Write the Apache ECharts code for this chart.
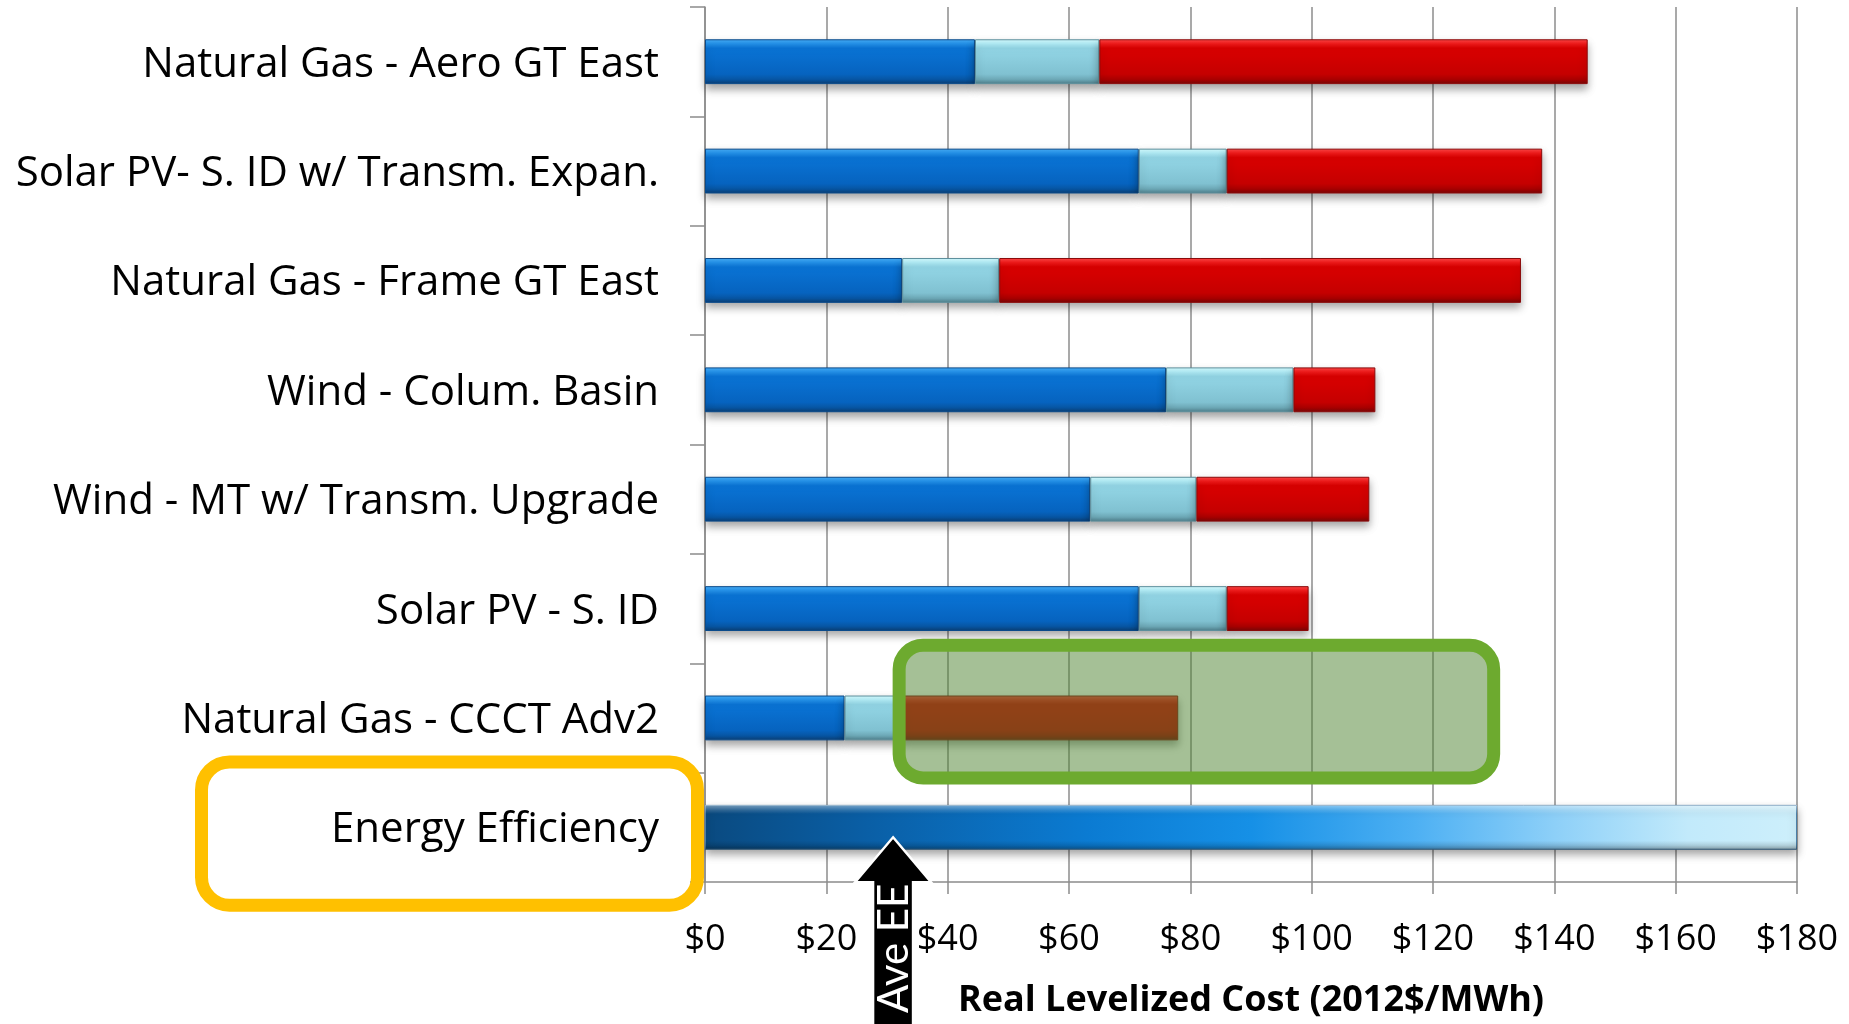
<!DOCTYPE html>
<html>
<head>
<meta charset="utf-8">
<title>Real Levelized Cost</title>
<script src="https://cdn.jsdelivr.net/npm/echarts@6/dist/echarts.min.js"></script>
<style>
  html, body { margin: 0; padding: 0; background: #ffffff; }
  #chart { width: 1849px; height: 1024px; }
</style>
</head>
<body>
<div id="chart"></div>
<script>
// Resources, top to bottom
const categories = [
  'Natural Gas - Aero GT East',
  'Solar PV- S. ID w/ Transm. Expan.',
  'Natural Gas - Frame GT East',
  'Wind - Colum. Basin',
  'Wind - MT w/ Transm. Upgrade',
  'Solar PV - S. ID',
  'Natural Gas - CCCT Adv2',
  'Energy Efficiency'
];

// Cost components, 2012$/MWh (stacked left to right)
const capitalCost  = [44.5, 71.5, 32.5, 76.0, 63.5, 71.5, 23.0, null];
const fixedCost    = [20.5, 14.5, 16.0, 21.0, 17.5, 14.5,  9.5, null];
const variableCost = [80.5, 52.0, 86.0, 13.5, 28.5, 13.5, 45.5, null];
const efficiencyRange = [null, null, null, null, null, null, null, 180];

// Axis ticks
const xMin = 0, xMax = 180, xStep = 20;

// Annotations
const aveEE = 31;                 // average energy-efficiency cost
const gasRange = [32, 130];       // highlighted gas cost range
const gasRow = 6;                 // Natural Gas - CCCT Adv2
const eeRow = 7;                  // Energy Efficiency

const FONT = '"Open Sans", Lato, sans-serif';
const ARROW_FONT = 'Lato, "Open Sans", sans-serif';

function vgrad(stops) {
  return new echarts.graphic.LinearGradient(0, 0, 0, 1,
    stops.map(s => ({ offset: s[0], color: s[1] })));
}
function hgrad(stops) {
  return new echarts.graphic.LinearGradient(0, 0, 1, 0,
    stops.map(s => ({ offset: s[0], color: s[1] })));
}

const barShadow = { shadowBlur: 8, shadowOffsetY: 5, shadowColor: 'rgba(0,0,0,0.35)' };

const blueFill = vgrad([[0, '#48aef7'], [0.1, '#2493ec'], [0.2, '#0a74d6'], [0.78, '#0663bf'], [0.9, '#0755a2'], [1, '#0b3d72']]);
const lightFill = vgrad([[0, '#d6fcff'], [0.1, '#b2eef8'], [0.2, '#93d6e6'], [0.78, '#80c1d1'], [0.9, '#6ca7b5'], [1, '#4d7c88']]);
const redFill = vgrad([[0, '#ff4a4a'], [0.1, '#f21a1a'], [0.2, '#da0000'], [0.78, '#c50000'], [0.9, '#a80000'], [1, '#760909']]);
const eeFill = hgrad([[0, '#0a4a80'], [0.15, '#0a5fa6'], [0.35, '#0b7bd2'], [0.5, '#1690e6'], [0.65, '#4db0f3'], [0.78, '#8ed0f8'], [0.9, '#c2eafb'], [1, '#cdeffb']]);
const eeBevel = vgrad([[0, 'rgba(255,255,255,0.45)'], [0.12, 'rgba(255,255,255,0.15)'], [0.2, 'rgba(255,255,255,0)'], [0.8, 'rgba(0,0,0,0)'], [0.9, 'rgba(0,0,0,0.12)'], [1, 'rgba(0,0,0,0.35)']]);

const chart = echarts.init(document.getElementById('chart'), null, { renderer: 'canvas' });

const option = {
  animation: false,
  backgroundColor: '#ffffff',
  grid: { left: 705, right: 52, top: 7, bottom: 140, containLabel: false },
  xAxis: {
    type: 'value',
    min: xMin, max: xMax, interval: xStep,
    axisLine: { show: true, lineStyle: { color: '#8c8c8c', width: 1.5 } },
    axisTick: { show: true, length: 12, lineStyle: { color: '#8c8c8c', width: 1.5 } },
    splitLine: { show: true, lineStyle: { color: '#8c8c8c', width: 1.5 } },
    axisLabel: {
      formatter: v => '$' + v,
      fontFamily: FONT, fontSize: 36, color: '#000', margin: 40
    },
    name: 'Real Levelized Cost (2012$/MWh)',
    nameLocation: 'middle',
    nameGap: 101,
    nameTextStyle: { fontFamily: FONT, fontSize: 36, fontWeight: 'bold', color: '#000' }
  },
  yAxis: {
    type: 'category',
    data: categories,
    inverse: true,
    axisLine: { show: true, lineStyle: { color: '#8c8c8c', width: 1.5 } },
    axisTick: { show: true, length: 15, lineStyle: { color: '#8c8c8c', width: 1.5 } },
    axisLabel: {
      fontFamily: FONT, fontSize: 42, color: '#000', margin: 46,
      formatter: v => '{c|' + v + '}',
      rich: { c: { fontFamily: FONT, fontSize: 42, color: '#000', padding: [6, 0, 0, 0] } }
    }
  },
  series: [
    {
      name: 'Capital', type: 'bar', stack: 'cost', barWidth: '41%',
      data: capitalCost,
      itemStyle: Object.assign({ color: blueFill, borderColor: '#0a4a8a', borderWidth: 1 }, barShadow)
    },
    {
      name: 'Fixed', type: 'bar', stack: 'cost', barWidth: '41%',
      data: fixedCost,
      itemStyle: Object.assign({ color: lightFill, borderColor: '#5d8f9c', borderWidth: 1 }, barShadow)
    },
    {
      name: 'Variable', type: 'bar', stack: 'cost', barWidth: '41%',
      data: variableCost,
      itemStyle: Object.assign({ color: redFill, borderColor: '#8a0a0a', borderWidth: 1 }, barShadow)
    },
    {
      name: 'Energy Efficiency', type: 'bar', stack: 'cost', barWidth: '41%',
      data: efficiencyRange,
      itemStyle: Object.assign({ color: eeFill, borderColor: '#4a7fa8', borderWidth: 1 }, barShadow)
    },
    {
      name: 'Energy Efficiency bevel', type: 'bar', stack: 'bevel', barWidth: '41%', barGap: '-100%',
      data: efficiencyRange, silent: true,
      itemStyle: { color: eeBevel }
    },
    {
      // Translucent rounded box over the gas cost range
      name: 'Gas range', type: 'custom', clip: false, z: 5,
      encode: { x: [0, 1], y: 2 },
      data: [[gasRange[0], gasRange[1], gasRow]],
      renderItem: function (params, api) {
        const p0 = api.coord([api.value(0), api.value(2)]);
        const p1 = api.coord([api.value(1), api.value(2)]);
        const band = api.size([0, 1])[1];
        const top = p0[1] - 0.664 * band;
        const bottom = p0[1] + 0.549 * band;
        return {
          type: 'rect',
          shape: { x: p0[0], y: top, width: p1[0] - p0[0], height: bottom - top, r: 24 },
          style: { fill: 'rgba(76,130,46,0.5)', stroke: '#6daa2f', lineWidth: 13 }
        };
      }
    },
    {
      // Rounded box around the Energy Efficiency label
      name: 'EE label box', type: 'custom', clip: false, z: 5,
      encode: { x: 0, y: 1 },
      data: [[xMin, eeRow]],
      renderItem: function (params, api) {
        const p = api.coord([api.value(0), api.value(1)]);
        const band = api.size([0, 1])[1];
        const right = p[0] - 7.5;
        const left = p[0] - 503.5;
        const top = p[1] - 0.598 * band;
        const bottom = p[1] + 0.712 * band;
        return {
          type: 'rect',
          shape: { x: left, y: top, width: right - left, height: bottom - top, r: 28 },
          style: { fill: 'none', stroke: '#ffc000', lineWidth: 13 }
        };
      }
    },
    {
      // Arrow marking the average energy-efficiency cost
      name: 'Ave EE', type: 'custom', clip: false, z: 6,
      encode: { x: 0, y: 1 },
      data: [[aveEE, eeRow]],
      renderItem: function (params, api) {
        const p = api.coord([api.value(0), api.value(1)]);
        const x = p[0];
        const tip = p[1] + 10;
        const base = tip + 45;
        const bottom = api.getHeight() + 10;
        const hw = 38, sw = 20;
        return {
          type: 'group',
          children: [
            {
              type: 'polygon',
              shape: {
                points: [[x, tip], [x + hw, base], [x + sw, base], [x + sw, bottom],
                         [x - sw, bottom], [x - sw, base], [x - hw, base]]
              },
              style: { fill: '#000', stroke: '#fff', lineWidth: 2.5, lineJoin: 'miter' }
            },
            {
              type: 'text',
              x: x + 1, y: base + 66,
              rotation: Math.PI / 2,
              style: {
                text: 'Ave EE', fill: '#fff',
                font: '42px ' + ARROW_FONT,
                align: 'center', verticalAlign: 'middle'
              }
            }
          ]
        };
      }
    }
  ]
};

chart.setOption(option);
</script>
</body>
</html>
